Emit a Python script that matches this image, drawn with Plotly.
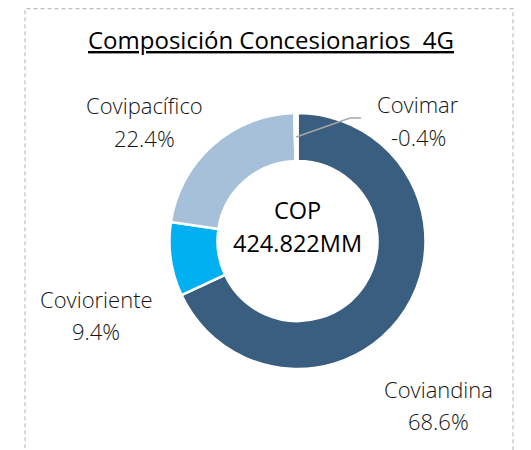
import math
import plotly.graph_objects as go

# page body adds an 8px offset; work in window pixels and convert
OFF = 8
W, H = 531 - OFF, 450 - OFF

# ---- data ----
categories = ["Coviandina", "Covioriente", "Covipacífico", "Covimar"]
shares = [68.6, 9.4, 22.4, -0.4]           # % participation
colors = ["#3A5E80", "#00B0F0", "#A6C0D9", "#FFFFFF"]
title_text = "Composición Concesionarios\u00a0 4G"
center_lines = ["COP", "424.822MM"]

# ---- geometry (window pixels) ----
cx, cy, R = 297.5, 241, 128
hole = 0.625


def px(x):
    return (x - OFF) / W


def py(y):
    return 1 - (y - OFF) / H


fig = go.Figure()
fig.add_trace(go.Pie(
    labels=categories,
    values=[abs(v) for v in shares],
    sort=False,
    direction="clockwise",
    rotation=0,
    hole=hole,
    textinfo="none",
    hoverinfo="label+percent",
    marker=dict(colors=colors, line=dict(color="white", width=2.5)),
    domain=dict(x=[px(cx - R), px(cx + R)], y=[py(cy + R), py(cy - R)]),
    showlegend=False,
))

annotations = []
# title
annotations.append(dict(
    text="<u>" + title_text + "</u>", x=px(271), y=py(40), xref="paper", yref="paper",
    xanchor="center", yanchor="middle", showarrow=False,
    font=dict(family="Open Sans", size=24, color="#000000")))

# slice labels: x center, first baseline
label_pos = {"Covipacífico": (144.5, 113.3), "Covimar": (418.0, 112.0),
             "Covioriente": (96.3, 306.7), "Coviandina": (438.3, 396.7)}
line_gap = 32.5
for name, val in zip(categories, shares):
    lx, by = label_pos[name]
    for i, t in enumerate([name, f"{val:.1f}%"]):
        annotations.append(dict(
            text=t, x=px(lx), y=py(by + i * line_gap - 8), xref="paper", yref="paper",
            xanchor="center", yanchor="middle", showarrow=False,
            font=dict(family="Open Sans", size=22, color="#141414", weight=300)))

# center text
for i, t in enumerate(center_lines):
    annotations.append(dict(
        text=t, x=px(cx), y=py(219 + i * 32.7 - 8.5), xref="paper", yref="paper",
        xanchor="center", yanchor="middle", showarrow=False,
        font=dict(family="Open Sans", size=23.5, color="#000000")))

# leader line for Covimar
total = sum(abs(v) for v in shares)
mid = (sum(abs(v) for v in shares[:3]) + abs(shares[3]) / 2) / total
ang = 2 * math.pi * mid
r_in = 104
sx, sy = cx + r_in * math.sin(ang), cy - r_in * math.cos(ang)
path = f"M {px(sx)} {py(sy)} L {px(350)} {py(118)} L {px(361)} {py(118)}"

shapes = [
    dict(type="path", path=path, xref="paper", yref="paper",
         line=dict(color="#A6A6A6", width=1.5)),
    dict(type="rect", xref="paper", yref="paper", x0=px(25), x1=px(513),
         y0=-0.1, y1=py(8.7), line=dict(color="#BFBFBF", width=1.2, dash="4px,3px")),
]

fig.update_layout(
    width=W, height=H, margin=dict(l=0, r=0, t=0, b=0),
    paper_bgcolor="white", plot_bgcolor="white",
    annotations=annotations, shapes=shapes,
)

fig.write_html("out.html")
